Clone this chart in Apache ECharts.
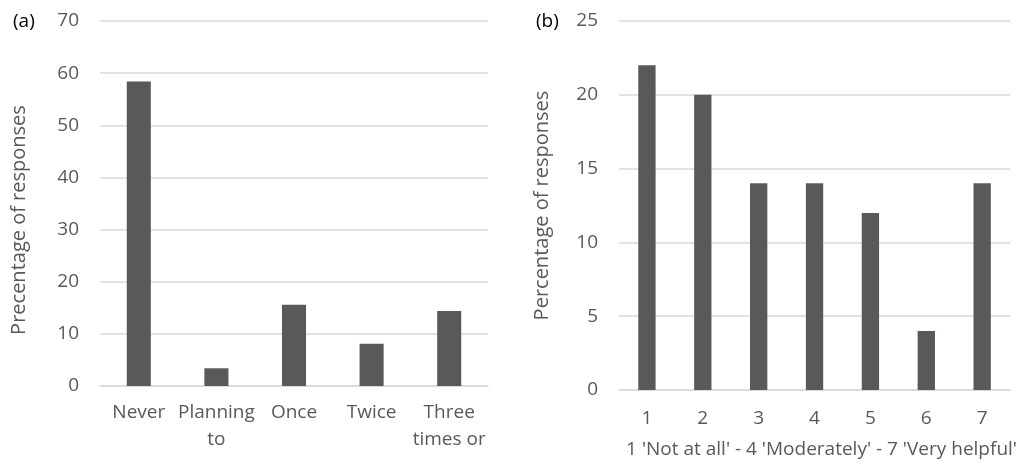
<!DOCTYPE html>
<html>
<head>
<meta charset="utf-8">
<script src="https://cdn.jsdelivr.net/npm/echarts@6/dist/echarts.min.js"></script>
<style>
html,body{margin:0;padding:0;background:#fff;}
#chart{width:1020px;height:466px;}
</style>
</head>
<body>
<div id="chart"></div>
<script>
// Panel (a)
const catsA = ['Never', 'Planning\nto', 'Once', 'Twice', 'Three\ntimes or'];
const valsA = [58.4, 3.4, 15.6, 8.1, 14.4];
// Panel (b)
const catsB = ['1', '2', '3', '4', '5', '6', '7'];
const valsB = [22, 20, 14, 14, 12, 4, 14];
const yNameA = 'Precentage of responses';
const yNameB = 'Percentage of responses';
const xNameB = "1 'Not at all' - 4 'Moderately' - 7 'Very helpful'";

const FONT = 'Open Sans';
const TXT = '#595959';
const GRID = '#d9d9d9';
const BAR = '#58595b';

const chart = echarts.init(document.getElementById('chart'));
chart.setOption({
  animation: false,
  textStyle: {fontFamily: FONT},
  title: [
    {text: '(a)', left: 8, top: 7, textStyle: {fontFamily: FONT, fontSize: 19, fontWeight: 'normal', color: '#000'}},
    {text: '(b)', left: 531, top: 7, textStyle: {fontFamily: FONT, fontSize: 19, fontWeight: 'normal', color: '#000'}}
  ],
  grid: [
    {left: 100, right: 532, top: 21, bottom: 80},
    {left: 619, right: 9, top: 21, bottom: 74}
  ],
  xAxis: [
    {
      type: 'category', gridIndex: 0, data: catsA,
      axisLine: {lineStyle: {color: GRID, width: 1.5}},
      axisTick: {show: false},
      axisLabel: {color: TXT, fontSize: 19, lineHeight: 27, margin: 13, interval: 0}
    },
    {
      type: 'category', gridIndex: 1, data: catsB,
      name: xNameB, nameLocation: 'middle', nameGap: 49,
      nameTextStyle: {color: TXT, fontSize: 19, lineHeight: 22, padding: [0, 0, 0, 14]},
      axisLine: {lineStyle: {color: GRID, width: 1.5}},
      axisTick: {show: false},
      axisLabel: {color: TXT, fontSize: 19, lineHeight: 22, margin: 18}
    }
  ],
  yAxis: [
    {
      type: 'value', gridIndex: 0, min: 0, max: 70, interval: 10,
      name: yNameA, nameLocation: 'middle', nameGap: 70,
      nameTextStyle: {color: TXT, fontSize: 20, lineHeight: 22, padding: [0, 33, 0, 0]},
      axisLine: {show: false}, axisTick: {show: false},
      axisLabel: {color: TXT, fontSize: 19, margin: 21},
      splitLine: {lineStyle: {color: GRID, width: 1.5}}
    },
    {
      type: 'value', gridIndex: 1, min: 0, max: 25, interval: 5,
      name: yNameB, nameLocation: 'middle', nameGap: 66,
      nameTextStyle: {color: TXT, fontSize: 20, lineHeight: 22},
      axisLine: {show: false}, axisTick: {show: false},
      axisLabel: {color: TXT, fontSize: 19, margin: 21},
      splitLine: {lineStyle: {color: GRID, width: 1.5}}
    }
  ],
  series: [
    {type: 'bar', xAxisIndex: 0, yAxisIndex: 0, data: valsA, barWidth: '31%', itemStyle: {color: BAR}},
    {type: 'bar', xAxisIndex: 1, yAxisIndex: 1, data: valsB, barWidth: '31%', itemStyle: {color: BAR}}
  ]
});
</script>
</body>
</html>
